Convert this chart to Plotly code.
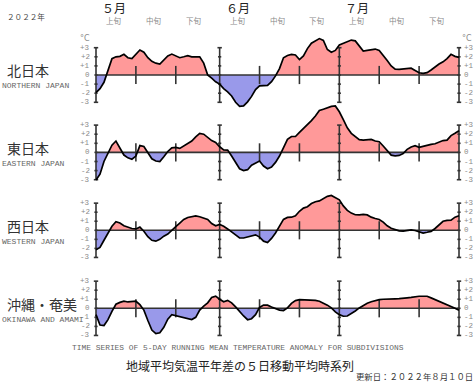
import plotly.graph_objects as go

# ---------------- data ----------------
days = list(range(92))  # 0 = May 1 ... 91 = July 31
month_starts = [0, 31, 61, 91]
month_labels = ["５月", "６月", "７月"]
dekad_starts = [0, 10, 20, 31, 41, 51, 61, 71, 81]
dekad_marks = [10, 20, 41, 51, 71, 81]
dekad_labels = ["上旬", "中旬", "下旬"] * 3
y_ticks = [-3, -2, -1, 0, 1, 2, 3]
y_tick_text = ["-3", "-2", "-1", "0", "+1", "+2", "+3"]
region_names = ["北日本", "東日本", "西日本", "沖縄・奄美"]
region_names_en = ["NORTHERN JAPAN", "EASTERN JAPAN", "WESTERN JAPAN", "OKINAWA AND AMAMI"]

north = [-1.94, -1.5, -0.8, 0.5, 1.8, 2.0, 2.05, 2.27, 1.9, 1.8,
         2.3, 2.75, 2.5, 1.9, 1.5, 1.3, 1.2, 1.65, 2.1, 2.3,
         2.1, 1.9, 2.0, 2.12, 2.0, 2.0, 2.0, 1.3, 0.0, -0.35,
         -0.75, -1.0, -1.5, -1.85, -2.3, -3.0, -3.45, -3.4, -2.95, -2.35,
         -1.6, -1.2, -1.2, -1.15, -0.73, -0.1, 0.7, 1.9, 2.15, 2.27,
         2.2, 1.7, 2.1, 2.9, 3.5, 3.75, 4.0, 3.8, 2.8, 2.5,
         2.7, 3.3, 3.5, 3.7, 3.84, 3.75, 3.2, 2.63, 2.7, 2.8,
         2.85, 2.7, 2.2, 1.6, 1.0, 0.65, 0.62, 0.65, 0.7, 0.75,
         0.5, 0.25, 0.18, 0.26, 0.55, 0.9, 1.2, 1.45, 1.8, 2.27,
         2.05, 1.94]
east = [-3.04, -2.4, -1.0, -0.1, 0.8, 1.25, 0.5, -0.29, -0.6, -0.75,
        -0.4, 0.75, 0.65, -0.1, -0.7, -0.95, -1.0, -0.48, 0.1, 0.5,
        0.55, 0.44, 0.7, 0.95, 1.25, 1.7, 2.08, 2.0, 1.6, 1.3,
        1.1, 0.62, 0.27, 0.26, -0.4, -1.13, -1.8, -2.0, -1.9, -1.4,
        -1.13, -0.95, -1.5, -1.8, -1.6, -1.1, -0.4, 0.5, 1.43, 1.75,
        1.75, 2.2, 2.6, 3.0, 3.5, 4.0, 4.6, 4.75, 4.9, 5.05,
        5.1, 4.46, 3.6, 2.7, 2.1, 1.7, 1.4, 1.35, 1.38, 1.43,
        1.25, 1.17, 0.7, 0.15, -0.3, -0.37, -0.33, -0.12, 0.33, 0.6,
        0.73, 0.55, 0.68, 0.75, 0.88, 0.95, 1.1, 1.3, 1.35, 1.85,
        2.1, 2.38]
west = [-2.14, -1.9, -1.1, -0.35, 0.45, 0.94, 0.8, 0.5, 0.35, 0.2,
        0.15, 0.35, -0.1, -0.7, -1.1, -1.2, -1.0, -0.65, -0.42, 0.05,
        0.4, 0.8, 1.2, 1.42, 1.5, 1.6, 1.5, 1.31, 1.2, 0.75,
        0.5, 0.64, 0.45, 0.15, -0.2, -0.5, -0.85, -0.85, -0.72, -0.67,
        -0.5, -0.75, -1.2, -1.35, -0.9, -0.3, 0.5, 1.2, 1.42, 1.45,
        1.6, 2.1, 2.45, 2.6, 2.95, 3.15, 3.25, 3.5, 3.75, 3.85,
        3.6, 3.37, 2.7, 2.2, 1.9, 1.72, 1.7, 1.75, 1.7, 1.45,
        1.3, 1.2, 0.9, 0.5, 0.22, 0.05, -0.07, -0.1, -0.05, 0.05,
        -0.02, -0.2, -0.3, -0.22, -0.12, 0.2, 0.64, 1.0, 1.1, 1.12,
        1.45, 1.61]
okinawa = [-0.7, -1.85, -1.9, -1.25, -0.33, 0.45, 0.65, 0.78, 0.7, 0.72,
           0.78, 0.4, -0.2, -1.35, -2.4, -2.8, -2.7, -2.1, -1.2, -0.7,
           -0.8, -0.9, -1.05, -1.15, -1.25, -1.0, -0.2, 0.25, 0.6, 1.2,
           1.35, 1.0, 0.72, 0.88, 0.6, 0.15, -0.4, -0.85, -1.26, -1.15,
           -0.7, 0.1, 0.35, 0.35, 0.15, 0.0, -0.2, -0.25, 0.05, 0.55,
           0.85, 0.96, 0.96, 0.96, 0.96, 0.88, 0.78, 0.6, 0.35, 0.05,
           -0.4, -0.7, -0.88, -0.85, -0.62, -0.3, 0.04, 0.3, 0.55, 0.72,
           0.85, 0.96, 1.0, 1.04, 1.05, 1.05, 1.06, 1.07, 1.15, 1.2,
           1.28, 1.33, 1.33, 1.33, 1.15, 0.96, 0.8, 0.65, 0.45, 0.22,
           0.0, -0.22]
series = [north, east, west, okinawa]

# ---------------- layout geometry ----------------
W, H = 476, 382
X0_PX, PX_PER_DAY = 96.0, 363.0 / 91.0
X_MIN, X_MAX = -1.0, 92.0
zero_px = [75.0, 152.4, 230.3, 308.3]
scale_px = [9.1, 9.1, 9.05, 9.05]
top_px = [26.0, 98.0, 186.0, 272.0]
bot_px = [112.0, 186.0, 264.0, 344.0]

POS_COLOR = "#ff9999"
NEG_COLOR = "#9999ea"
AXIS_COLOR = "#333333"
GRAY = "#8a8a8a"
CJK = "Noto Sans CJK JP"
MONO = "Liberation Mono"


def split(xs, ys, positive):
    px, py = [], []
    for i in range(len(xs)):
        if i > 0:
            a, b = ys[i - 1], ys[i]
            if (a > 0) != (b > 0) and a != b:
                t = a / (a - b)
                px.append(xs[i - 1] + t * (xs[i] - xs[i - 1]))
                py.append(0.0)
        v = ys[i]
        px.append(xs[i])
        py.append(max(v, 0.0) if positive else min(v, 0.0))
    return px, py


fig = go.Figure()
annotations = []

for i, ys in enumerate(series):
    yname = "y" if i == 0 else f"y{i + 1}"
    # fills
    for positive, col in [(True, POS_COLOR), (False, NEG_COLOR)]:
        fx, fy = split(days, ys, positive)
        fig.add_trace(go.Scatter(x=fx, y=fy, mode="lines", fill="tozeroy",
                                 fillcolor=col, line=dict(width=0, color=col),
                                 xaxis="x", yaxis=yname, hoverinfo="skip",
                                 showlegend=False))
    # axis bars, ticks, dekad marks, zero line
    bx, by = [], []
    for m in month_starts:
        bx += [m, m, None]
        by += [y_ticks[0], y_ticks[-1], None]
        for k in y_ticks:
            w = 0.55 if abs(k) == 3 else 0.4
            bx += [m - w, m + w, None]
            by += [k, k, None]
    for d in dekad_marks:
        bx += [d, d, None]
        by += [-1, 1, None]
    bx += [month_starts[0], month_starts[-1], None]
    by += [0, 0, None]
    fig.add_trace(go.Scatter(x=bx, y=by, mode="lines",
                             line=dict(color=AXIS_COLOR, width=1.6),
                             xaxis="x", yaxis=yname, hoverinfo="skip",
                             showlegend=False))
    # outline
    fig.add_trace(go.Scatter(x=days, y=ys, mode="lines",
                             line=dict(color="black", width=1.7),
                             xaxis="x", yaxis=yname, hoverinfo="skip",
                             showlegend=False))

    # tick labels
    for k, t in zip(y_ticks, y_tick_text):
        annotations.append(dict(x=month_starts[0], y=k, xref="x", yref=yname,
                                text=t, showarrow=False, xanchor="right",
                                yanchor="middle", xshift=-4,
                                font=dict(family=MONO, size=7.5, color=GRAY)))
        annotations.append(dict(x=month_starts[-1], y=k, xref="x", yref=yname,
                                text=t, showarrow=False, xanchor="left",
                                yanchor="middle", xshift=3,
                                font=dict(family=MONO, size=7.5, color=GRAY)))
    if i == 0:
        for xv, anc, sh in [(month_starts[0], "right", -4), (month_starts[-1], "left", 1)]:
            annotations.append(dict(x=xv, y=3, xref="x", yref=yname, text="°C",
                                    showarrow=False, xanchor=anc, yanchor="middle",
                                    xshift=sh, yshift=9,
                                    font=dict(family="DejaVu Sans", size=8, color=GRAY)))

# region titles
title_y = [69.5, 147.5, 225.8, 304.0]
sub_y = [86.0, 163.3, 241.7, 319.3]
for name, en, ty, sy in zip(region_names, region_names_en, title_y, sub_y):
    annotations.append(dict(x=5 / W, y=1 - ty / H, xref="paper", yref="paper",
                            text=name, showarrow=False, xanchor="left",
                            yanchor="middle",
                            font=dict(family=CJK, size=14, color="#333333")))
    annotations.append(dict(x=0.0, y=1 - sy / H, xref="paper", yref="paper",
                            text=en, showarrow=False, xanchor="left",
                            yanchor="middle",
                            font=dict(family=MONO, size=8.0, color="#666666")))

# month labels
for m, lab in zip(month_starts[:3], month_labels):
    annotations.append(dict(x=m, y=1 - 7.5 / H, xref="x", yref="paper", text=lab,
                            showarrow=False, xanchor="left", yanchor="middle",
                            xshift=4, font=dict(family=CJK, size=12, color="#222222")))
# dekad labels
for d, lab in zip(dekad_starts, dekad_labels):
    annotations.append(dict(x=d + 4.5, y=1 - 20.5 / H, xref="x", yref="paper",
                            text=lab, showarrow=False, xanchor="center",
                            yanchor="middle",
                            font=dict(family=CJK, size=7.5, color=GRAY)))

annotations.append(dict(x=5 / W, y=1 - 16 / H, xref="paper", yref="paper",
                        text="２０２２年", showarrow=False, xanchor="left",
                        yanchor="middle", font=dict(family=CJK, size=7.6, color="#444444")))
annotations.append(dict(x=238 / W, y=1 - 347.7 / H, xref="paper", yref="paper",
                        text="TIME SERIES OF 5-DAY RUNNING MEAN TEMPERATURE ANOMALY FOR SUBDIVISIONS",
                        showarrow=False, xanchor="center", yanchor="middle",
                        font=dict(family=MONO, size=7.9, color="#666666")))
annotations.append(dict(x=240 / W, y=1 - 365 / H, xref="paper", yref="paper",
                        text="地域平均気温平年差の５日移動平均時系列",
                        showarrow=False, xanchor="center", yanchor="middle",
                        font=dict(family=CJK, size=12, color="#222222")))
annotations.append(dict(x=475 / W, y=1 - 376 / H, xref="paper", yref="paper",
                        text="更新日：２０２２年８月１０日",
                        showarrow=False, xanchor="right", yanchor="middle",
                        font=dict(family=CJK, size=8.4, color="#333333")))

layout = dict(
    width=W, height=H, autosize=False,
    margin=dict(l=0, r=0, t=0, b=0, pad=0),
    paper_bgcolor="white", plot_bgcolor="rgba(0,0,0,0)",
    showlegend=False,
    annotations=annotations,
    xaxis=dict(domain=[(X0_PX - PX_PER_DAY) / W, (X0_PX + 92 * PX_PER_DAY) / W],
               range=[X_MIN, X_MAX], visible=False, fixedrange=True),
)
for i in range(4):
    key = "yaxis" if i == 0 else f"yaxis{i + 1}"
    z, s, t, b = zero_px[i], scale_px[i], top_px[i], bot_px[i]
    layout[key] = dict(domain=[1 - b / H, 1 - t / H],
                       range=[(z - b) / s, (z - t) / s],
                       anchor="x", visible=False, fixedrange=True)
fig.update_layout(**layout)

fig.write_html("out.html", config={"displayModeBar": False},
               post_script="document.body.style.margin='0';"
                           "document.body.style.overflow='hidden';")
